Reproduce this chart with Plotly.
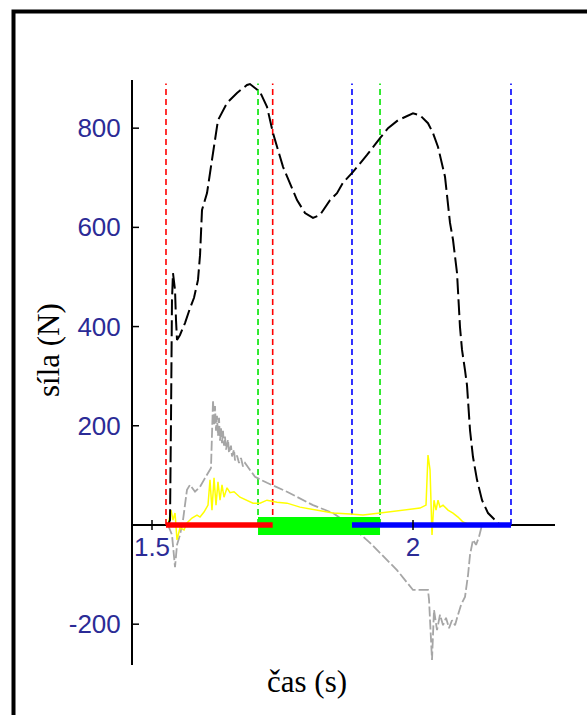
import plotly.graph_objects as go

# ---- data (time in s, force in N) ----
black_t = [1.5307, 1.5345, 1.5364, 1.5383, 1.5402, 1.5441, 1.5460, 1.5479, 1.5536, 1.5632,
           1.5728, 1.5805, 1.5881, 1.5920, 1.5958, 1.6054, 1.6149, 1.6207, 1.6264, 1.6437,
           1.6628, 1.6820, 1.6877, 1.6973, 1.7069, 1.7203, 1.7318, 1.7510, 1.7644, 1.7778,
           1.7931, 1.8084, 1.8218, 1.8410, 1.8544, 1.8659, 1.8851, 1.9119, 1.9368, 1.9521,
           1.9713, 2.0000, 2.0134, 2.0287, 2.0383, 2.0479, 2.0613, 2.0709, 2.0766, 2.0843,
           2.0900, 2.0939, 2.0996, 2.1034, 2.1092, 2.1149, 2.1226, 2.1322, 2.1437, 2.1628, 2.1667]
black_f = [0, 10, 212, 454, 508, 474, 413, 373, 383, 407,
           437, 458, 494, 544, 635, 669, 736, 776, 816, 851,
           871, 887, 889, 881, 873, 843, 790, 722, 690, 655,
           629, 619, 625, 655, 669, 690, 712, 746, 780, 800,
           816, 830, 826, 810, 790, 762, 702, 609, 575, 508,
           399, 353, 312, 282, 191, 137, 91, 50, 24, 4, 0]

gray_t = [1.5307, 1.5383, 1.5441, 1.5479, 1.5536, 1.5594, 1.5670, 1.5728, 1.5824, 1.5920,
          1.5996, 1.6073, 1.6130, 1.6169, 1.6188, 1.6207, 1.6226, 1.6245, 1.6264, 1.6284,
          1.6303, 1.6322, 1.6341, 1.6360, 1.6379, 1.6398, 1.6418, 1.6456, 1.6475, 1.6513,
          1.6533, 1.6571, 1.6590, 1.6628, 1.6667, 1.6705, 1.6743, 1.6782, 1.6877, 1.6973,
          1.7088, 1.7203, 1.7586, 1.7835, 1.8084, 1.8467, 1.8793, 1.9176, 1.9693, 2.0000,
          2.0287, 2.0307, 2.0345, 2.0364, 2.0402, 2.0460, 2.0517, 2.0575, 2.0632, 2.0690,
          2.0747, 2.0805, 2.0862, 2.0920, 2.0996, 2.1054, 2.1092, 2.1149, 2.1207, 2.1264, 2.1322]
gray_f = [0, -20, -85, -40, -20, 10, 71, 81, 67, 77,
          91, 105, 115, 252, 200, 240, 190, 220, 180, 216,
          170, 195, 165, 190, 160, 178, 152, 172, 145, 160,
          138, 152, 130, 140, 125, 135, 118, 125, 111, 97,
          91, 85, 67, 54, 40, 24, 0, -36, -91, -131,
          -131, -151, -232, -272, -171, -212, -181, -202, -187, -208,
          -192, -202, -181, -161, -145, -101, -60, -30, -40, -24, 0]

yellow_t = [1.5307, 1.5364, 1.5402, 1.5441, 1.5479, 1.5536, 1.5613, 1.5670, 1.5766, 1.5862,
            1.5920, 1.5996, 1.6073, 1.6111, 1.6149, 1.6188, 1.6226, 1.6264, 1.6303, 1.6341,
            1.6379, 1.6437, 1.6494, 1.6571, 1.6686, 1.6801, 1.6935, 1.7069, 1.7203, 1.7395,
            1.7586, 1.7835, 1.8161, 1.8467, 1.8793, 1.9042, 1.9368, 1.9655, 1.9885, 2.0134,
            2.0249, 2.0287, 2.0326, 2.0364, 2.0402, 2.0441, 2.0479, 2.0517, 2.0575, 2.0670,
            2.0766, 2.0862, 2.0958, 2.1092]
yellow_f = [0, 30, 10, 24, -30, -6, -10, 4, 14, 20,
            16, 26, 40, 91, 30, 95, 40, 87, 50, 81,
            56, 75, 65, 67, 56, 50, 44, 44, 50, 46,
            44, 36, 30, 24, 22, 20, 24, 28, 30, 34,
            40, 141, 111, -20, 50, 30, 50, 36, 40, 30,
            24, 16, 6, 0]

red_marks = [1.5268, 1.7312]
green_marks = [1.7031, 1.9368]
blue_marks = [1.8831, 2.1877]
marker_top = 890

x_ticks = [1.5, 2]
x_tick_text = ["1.5", "2"]
y_ticks = [-200, 200, 400, 600, 800]
y_tick_text = ["-200", "200", "400", "600", "800"]

x_range = [1.4636, 2.2720]
y_range = [-282.3, 897.1]

fig = go.Figure()

# event marker dashed vertical lines
for xs, col in [(red_marks, "#ff0000"), (green_marks, "#00e600"), (blue_marks, "#0000ff")]:
    for xv in xs:
        fig.add_trace(go.Scatter(x=[xv, xv], y=[0, marker_top], mode="lines",
                                 line=dict(color=col, width=1.6, dash="6px,4px"),
                                 hoverinfo="skip", showlegend=False))

# curves
fig.add_trace(go.Scatter(x=gray_t, y=gray_f, mode="lines",
                         line=dict(color="#a6a6a6", width=1.8, dash="10px,3px"),
                         showlegend=False))
fig.add_trace(go.Scatter(x=yellow_t, y=yellow_f, mode="lines",
                         line=dict(color="#ffff00", width=1.5),
                         showlegend=False))
fig.add_trace(go.Scatter(x=black_t, y=black_f, mode="lines",
                         line=dict(color="#000000", width=2, dash="16px,5px"),
                         showlegend=False))

# phase bars
fig.add_trace(go.Scatter(x=green_marks, y=[-2, -2], mode="lines",
                         line=dict(color="#00ff00", width=18),
                         showlegend=False))
fig.add_trace(go.Scatter(x=red_marks, y=[0, 0], mode="lines",
                         line=dict(color="#ff0000", width=5.5), showlegend=False))
fig.add_trace(go.Scatter(x=blue_marks, y=[0, 0], mode="lines",
                         line=dict(color="#0000ff", width=5.5), showlegend=False))

W, H = 587, 715
ml, mr, mt, mb = 133, 32, 80, 50
pw = W - ml - mr
ph = H - mt - mb
x_per_px = (x_range[1] - x_range[0]) / pw
y_per_px = (y_range[1] - y_range[0]) / ph

shapes = []
# crossing y ticks
for yv in y_ticks:
    shapes.append(dict(type="line", xref="x", yref="y",
                       x0=x_range[0] - 6 * x_per_px, x1=x_range[0] + 6 * x_per_px,
                       y0=yv, y1=yv, line=dict(color="black", width=1.5)))
# crossing x ticks
for xv in x_ticks:
    shapes.append(dict(type="line", xref="x", yref="y",
                       x0=xv, x1=xv, y0=-5 * y_per_px, y1=5 * y_per_px,
                       line=dict(color="black", width=1.5)))


def px2paper_x(px):
    return (px - ml) / pw


def px2paper_y(py):
    return (H - mb - py) / ph


# outer frame
shapes.append(dict(type="rect", xref="paper", yref="paper",
                   x0=px2paper_x(13.5), x1=px2paper_x(620),
                   y0=px2paper_y(740), y1=px2paper_y(11.5),
                   line=dict(color="black", width=4), fillcolor="rgba(0,0,0,0)",
                   layer="above"))

tick_font = dict(family="Liberation Sans, Arial, sans-serif", size=26, color="#2b2b96")
title_font = dict(family="Liberation Serif, Times New Roman, serif", size=31, color="black")

fig.update_layout(
    width=W, height=H,
    margin=dict(l=ml, r=mr, t=mt, b=mb),
    paper_bgcolor="white", plot_bgcolor="white",
    showlegend=False,
    xaxis=dict(range=x_range, showgrid=False, zeroline=False, showline=False,
               ticks="", tickvals=x_ticks, ticktext=x_tick_text, tickfont=tick_font,
               anchor="free", position=(0 - y_range[0]) / (y_range[1] - y_range[0]),
               ticklabelstandoff=4),
    yaxis=dict(range=y_range, showgrid=False, zeroline=True, zerolinecolor="black",
               zerolinewidth=2, showline=True, linecolor="black", linewidth=2,
               ticks="", tickvals=y_ticks, ticktext=y_tick_text, tickfont=tick_font,
               ticklabelstandoff=5),
    shapes=shapes,
    annotations=[
        dict(text="čas (s)", xref="paper", yref="paper",
             x=px2paper_x(307), y=px2paper_y(682), xanchor="center", yanchor="middle",
             showarrow=False, font=title_font),
        dict(text="síla (N)", xref="paper", yref="paper",
             x=px2paper_x(48), y=px2paper_y(350), xanchor="center", yanchor="middle",
             showarrow=False, font=title_font, textangle=-90),
    ],
)

fig.write_html("out.html")
